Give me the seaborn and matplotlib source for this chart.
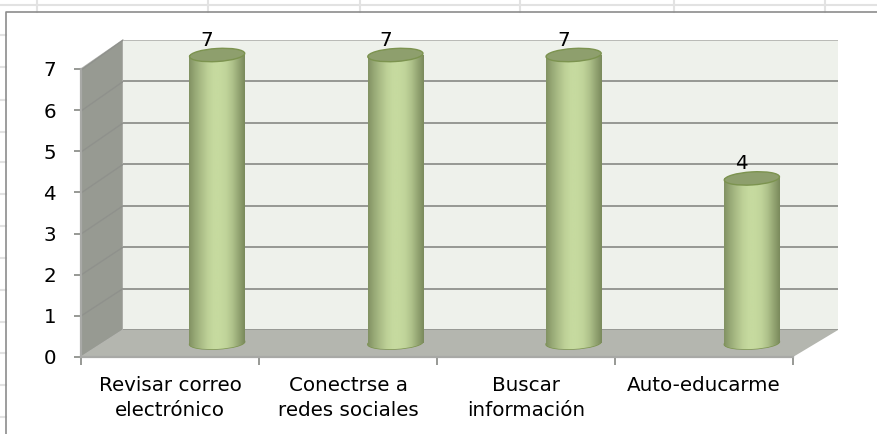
"""Excel style 3D cylinder column chart redone with seaborn."""
import matplotlib
matplotlib.use("Agg")
import matplotlib.pyplot as plt
from matplotlib.patches import Ellipse, Polygon
from matplotlib.transforms import Affine2D
import numpy as np
import seaborn as sns

categories = ["Revisar correo\nelectrónico", "Conectrse a\nredes sociales",
              "Buscar\ninformación", "Auto-educarme"]
values = [7, 7, 7, 4]
y_ticks = [0, 1, 2, 3, 4, 5, 6, 7]

W, H = 877, 434
FONT = 14.3
GRID = "#8f918c"
SHEET = "#e2e2e2"


def px_axes(fig, left, top, right, bottom):
    """Axes placed by pixel box, y counted from the top of the image."""
    ax = fig.add_axes([left / W, 1 - bottom / H, (right - left) / W, (bottom - top) / H])
    ax.patch.set_alpha(0)
    return ax


sns.set_theme(style="white", rc={"font.family": "DejaVu Sans", "text.color": "black",
                                 "xtick.labelcolor": "black", "ytick.labelcolor": "black"})
fig = plt.figure(figsize=(W / 100, H / 100), dpi=100, facecolor="white")

# sheet cells and chart frame
bg = px_axes(fig, 0, 0, W, H)
bg.set_xlim(0, W)
bg.set_ylim(H, 0)
bg.axis("off")
for x in [37, 208, 360, 520, 674, 825]:
    bg.plot([x, x], [0, 12], color=SHEET, lw=1.5)
bg.plot([0, W], [5, 5], color=SHEET, lw=1.5)
for y in [35, 67, 100, 132, 162, 194, 226, 258, 290, 322, 353, 385, 417]:
    bg.plot([0, 6], [y, y], color=SHEET, lw=1.5)
bg.plot([6, 6, W], [H, 12, 12], color="#8c8c8c", lw=1.2)

# side wall and floor
bg.add_patch(Polygon([(81, 69), (123, 40), (123, 330), (81, 357)], fc="#979a92", ec="#b4b5b1", lw=1))
bg.add_patch(Polygon([(81, 357), (123, 330), (838, 330), (793, 357)], fc="#b4b6af", ec="none"))
for v in y_ticks[1:]:
    bg.plot([81, 123], [357 - 41 * v, 330 - 41.4 * v], color=GRID, lw=1)

# back wall
wall = px_axes(fig, 123, 40, 838, 330)
wall.patch.set_alpha(1)
wall.set_facecolor("#eef1eb")
wall.set_ylim(0, 7)
wall.set_yticks(y_ticks)
wall.set_xticks([])
wall.tick_params(left=False, labelleft=False)
wall.grid(axis="y", color=GRID, lw=1.3)
sns.despine(ax=wall, left=True, bottom=True, right=True, top=True)
wall.get_ygridlines()[-1].set_color("#b5b6b2")

# front axes with ticks and labels
front = px_axes(fig, 81, 69, 793, 357)
sns.barplot(x=categories, y=[0] * len(categories), ax=front, alpha=0)
front.set_xlim(-0.5, 3.5)
front.set_ylim(0, 7)
front.set_yticks(y_ticks)
front.set_xticks(np.arange(-0.5, 4), minor=True)
front.tick_params(axis="x", which="major", length=0, pad=13.5, labelsize=FONT)
front.tick_params(axis="x", which="minor", length=6, width=1.3, color=GRID, bottom=True)
front.tick_params(axis="y", length=5, width=1.3, color=GRID, pad=13, labelsize=FONT, left=True)
for lab in front.get_xticklabels():
    lab.set_linespacing(1.43)
sns.despine(ax=front, right=True, top=True)
for side in ["left", "bottom"]:
    front.spines[side].set_color("#a8a9a6")
    front.spines[side].set_linewidth(1.6)

# cylinders, set back from the front axes
bars = px_axes(fig, 128, 55, 841, 343)
sns.barplot(x=categories, y=values, ax=bars, width=0.31, color="#c4d89e")
bars.set_xlim(-0.5, 3.5)
bars.set_ylim(0, 7)
bars.axis("off")

shade = np.array([0.1, 0.4, 0.65, 0.88, 1.0, 1.0, 0.92, 0.7, 0.35, 0.0])
dark = np.array(matplotlib.colors.to_rgb("#7a8a5c"))
light = np.array(matplotlib.colors.to_rgb("#c6da9f"))
xs = np.linspace(0, 1, 120)
ramp = np.interp(xs, np.linspace(0, 1, len(shade)), shade)
grad = (dark + (light - dark) * ramp[:, None])[None, :, :]

for patch, val in zip(bars.patches, values):
    x0, w = patch.get_x(), patch.get_width()
    cx = x0 + w / 2
    patch.set_edgecolor("none")
    base_px = bars.transData.transform((cx, 0))
    top_px = bars.transData.transform((cx, val))
    w_px = bars.transData.transform((x0 + w, 0))[0] - bars.transData.transform((x0, 0))[0]
    # bottom cap first, then the body, then the top cap
    base = Ellipse((0, 0), w_px, 12, angle=3,
                   transform=Affine2D().translate(*base_px), fc="#8fa468", ec="#7c934f", lw=1)
    bars.add_patch(base)
    base.set_clip_on(False)
    im = bars.imshow(grad, extent=(x0, x0 + w, -0.3, 0.3), aspect="auto", zorder=2)
    im.set_clip_path(base)
    im.set_clip_box(fig.bbox)
    bars.imshow(grad, extent=(x0, x0 + w, 0, val), aspect="auto", zorder=2)
    cap = Ellipse((0, 0), w_px, 13, angle=3.5,
                  transform=Affine2D().translate(*top_px),
                  fc="#8e9f6d", ec="#7c934f", lw=1, zorder=3)
    bars.add_patch(cap)
    cap.set_clip_on(False)
    bars.annotate(str(val), (cx, val), xytext=(-10, 15), textcoords="offset pixels",
                  ha="center", va="center", fontsize=FONT, annotation_clip=False, zorder=4)
bars.set_xlim(-0.5, 3.5)
bars.set_ylim(0, 7)

fig.savefig("out.png", dpi=100)
plt.close(fig)
